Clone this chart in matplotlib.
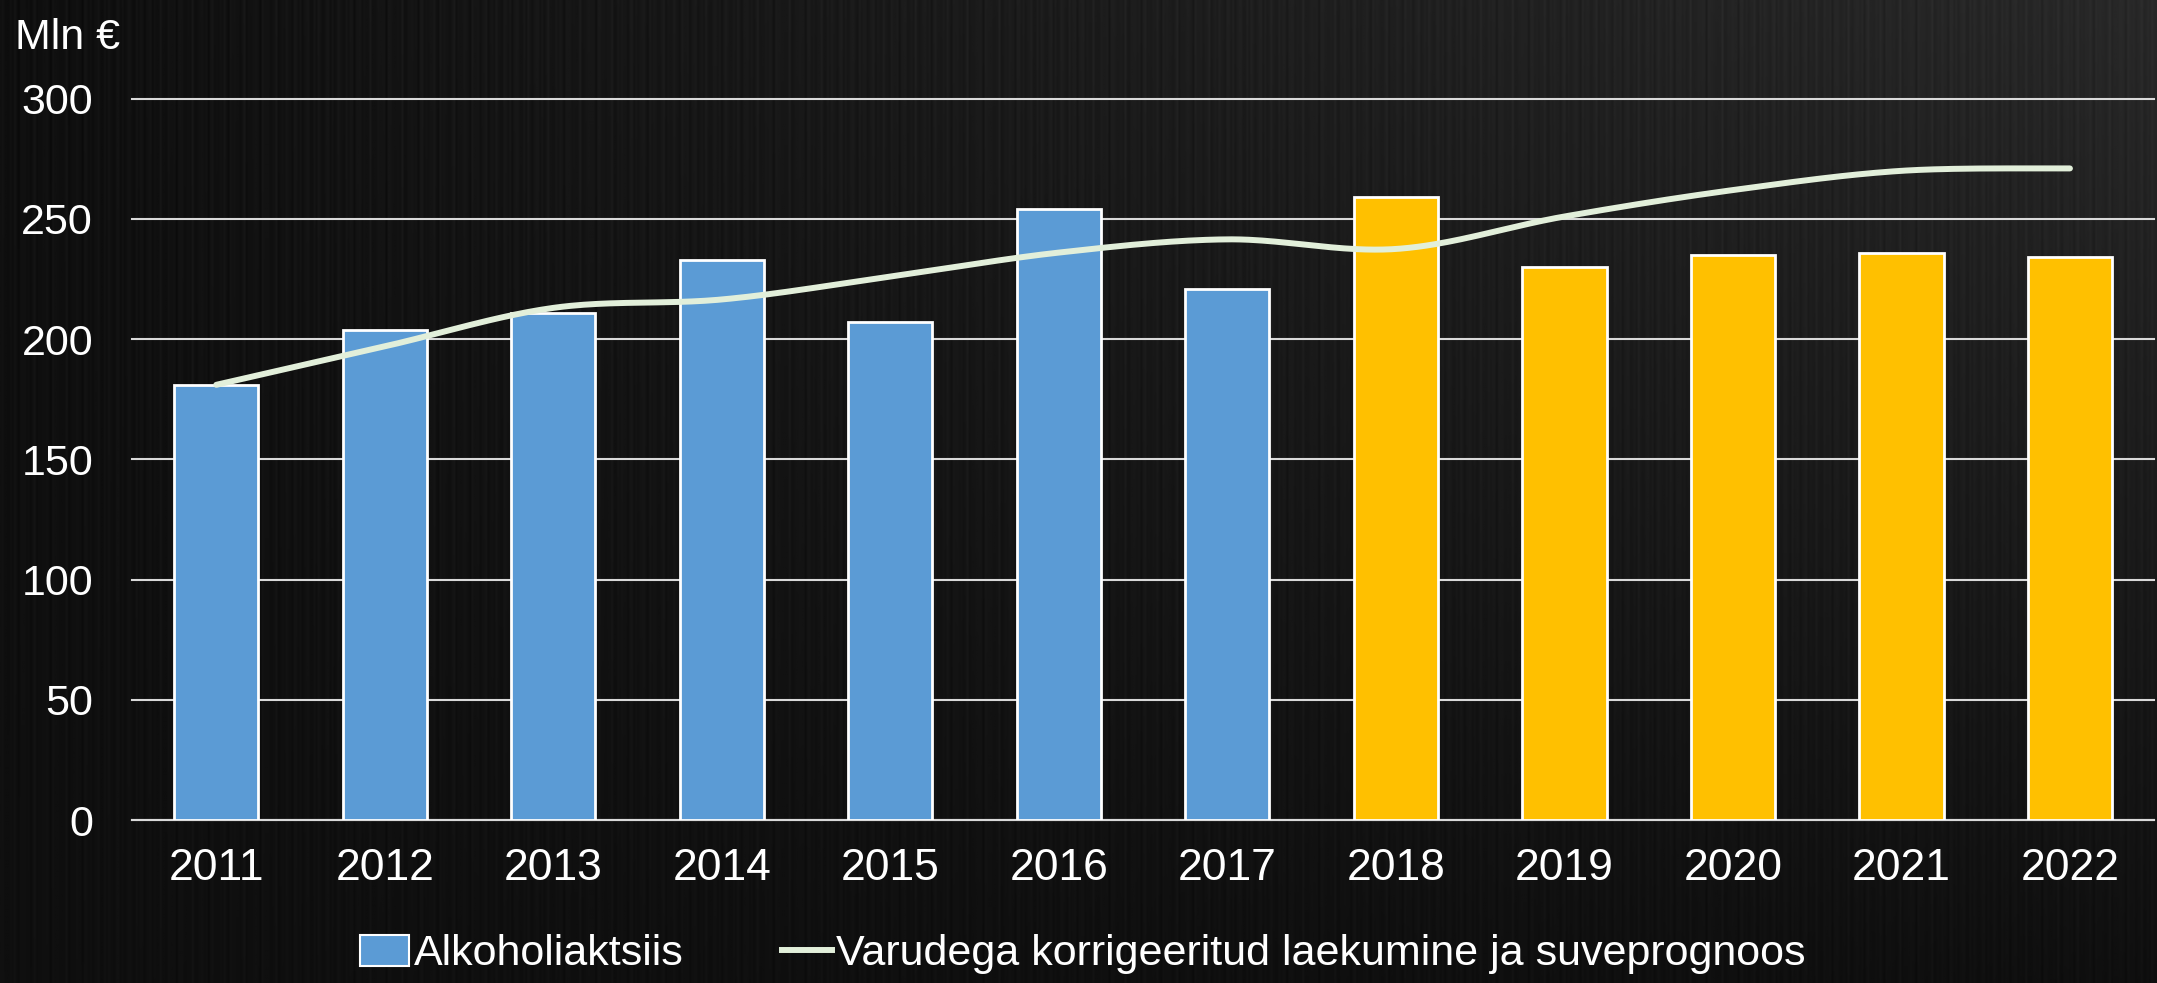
import numpy as np
import matplotlib
matplotlib.use("Agg")
from matplotlib import pyplot as plt
from matplotlib.patches import Patch
from matplotlib.lines import Line2D

plt.rcParams['font.family'] = ['Liberation Sans', 'DejaVu Sans']

# ---------------- data ----------------
years = ['2011', '2012', '2013', '2014', '2015', '2016',
         '2017', '2018', '2019', '2020', '2021', '2022']
excise = [181, 204, 211, 233, 207, 254, 221, 259, 230, 235, 236, 234]
adjusted = [181, 197, 213, 216.5, 226, 236, 241.5, 237.5, 251, 262, 270, 271]
n_actual = 7  # 2011-2017 actual, 2018-2022 forecast

blue = '#5b9bd5'
gold = '#ffc000'
lineCol = '#e2efda'


def excel_smooth(x, y, pts=40):
    # Catmull-Rom style smoothing like the office "smoothed line"
    x = np.asarray(x, float)
    y = np.asarray(y, float)
    xs, ys = [], []
    n = len(x)
    for i in range(n - 1):
        p0 = np.array([x[max(i - 1, 0)], y[max(i - 1, 0)]])
        p1 = np.array([x[i], y[i]])
        p2 = np.array([x[i + 1], y[i + 1]])
        p3 = np.array([x[min(i + 2, n - 1)], y[min(i + 2, n - 1)]])
        c1 = p1 + (p2 - p0) / 6
        c2 = p2 - (p3 - p1) / 6
        t = np.linspace(0, 1, pts)[:, None]
        b = ((1 - t) ** 3) * p1 + 3 * ((1 - t) ** 2) * t * c1 \
            + 3 * (1 - t) * t ** 2 * c2 + t ** 3 * p2
        xs.extend(b[:, 0])
        ys.extend(b[:, 1])
    return np.array(xs), np.array(ys)


fig = plt.figure(figsize=(21.57, 9.83), dpi=100)

# dark brushed-metal look: gradient plus faint vertical streaks
bg = fig.add_axes([0, 0, 1, 1])
gx = np.linspace(0, 1, 1080)
gy = np.linspace(0, 1, 200)
GX, GY = np.meshgrid(gx, gy)
streaks = (np.sin(gx * 1713.0) * np.sin(gx * 421.0 + 1.3)
           + 0.5 * np.sin(gx * 2903.0 + 0.7)) * 0.018
shade = 0.06 + 0.10 * GX * GY + streaks[None, :] * (0.6 + 0.4 * GY)
bg.imshow(shade, cmap='gray', vmin=0, vmax=1, aspect='auto',
          extent=[0, 1, 0, 1], origin='lower', interpolation='bilinear')
bg.set_axis_off()

ax = fig.add_axes([0.0612, 0.1658, 0.9375, 0.7338])
ax.set_facecolor('none')

xpos = np.arange(len(years))
colors = [blue] * n_actual + [gold] * (len(years) - n_actual)
ax.bar(xpos, excise, width=0.5, color=colors, edgecolor='white',
       linewidth=2, zorder=3)

sx, sy = excel_smooth(xpos, adjusted)
ax.plot(sx, sy, color=lineCol, lw=4.3, solid_capstyle='round', zorder=4)

ax.set_xlim(-0.5, len(years) - 0.5)
ax.set_ylim(0, 300)
ax.set_yticks(np.arange(0, 301, 50))
ax.set_xticks(xpos)
ax.set_xticklabels(years)
ax.grid(axis='y', color='#d9d9d9', lw=1.5, zorder=1)
for g in ax.get_ygridlines():
    g.set_clip_on(False)
for s in ['top', 'right', 'left']:
    ax.spines[s].set_visible(False)
ax.spines['bottom'].set_color('#d9d9d9')
ax.spines['bottom'].set_linewidth(1.5)
ax.tick_params(axis='both', length=0, colors='white', labelsize=32)
ax.tick_params(axis='y', labelsize=31, pad=28)
ax.tick_params(axis='x', pad=20)

fig.text(0.007, 0.982, 'Mln €', color='white', fontsize=31, va='top', ha='left')

handles = [Patch(facecolor=blue, edgecolor='white', linewidth=1.5),
           Line2D([0], [0], color=lineCol, lw=4.3)]
labels = ['Alkoholiaktsiis', 'Varudega korrigeeritud laekumine ja suveprognoos']
leg = fig.legend(handles, labels, loc='center', bbox_to_anchor=(0.502, 0.029),
                 ncol=2, frameon=False, fontsize=31, labelcolor='white',
                 handlelength=1.15, handleheight=0.75, handletextpad=0.1,
                 columnspacing=2.3)

fig.savefig('out.png', dpi=100, facecolor='black')
